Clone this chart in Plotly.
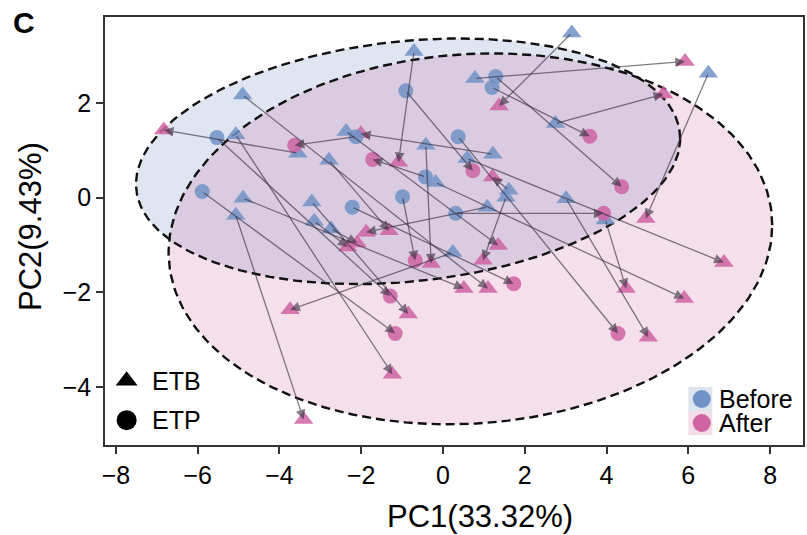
import numpy as np
import plotly.graph_objects as go

# ---------------- data ----------------
sample_group = ["ETB", "ETB", "ETP", "ETP", "ETB", "ETP", "ETB", "ETB", "ETB", "ETB",
                "ETP", "ETP", "ETP", "ETB", "ETB", "ETB", "ETB", "ETB", "ETP", "ETB",
                "ETB", "ETB", "ETB", "ETB", "ETP", "ETP", "ETB", "ETP", "ETB", "ETB",
                "ETB", "ETB", "ETB", "ETB", "ETP", "ETB"]

before_pc1 = [-3.55, 1.22, -2.13, -0.43, -0.71, -0.91, 1.61, 3.15, 0.78, 2.75,
              1.20, 1.29, 0.31, 6.49, 1.08, -2.79, -3.15, -2.74, -0.99, -0.42,
              -2.37, 1.54, -4.89, -4.90, -2.22, -5.53, -3.21, -5.89, -5.07, 0.24,
              -5.07, 0.59, 3.97, -0.18, 0.37, 3.01]
before_pc2 = [0.94, 0.92, 1.29, 0.44, 3.09, 2.26, 0.16, 3.48, 2.52, 1.57,
              2.33, 2.56, -0.33, 2.63, -0.20, 0.79, -0.50, -0.66, 0.02, 1.11,
              1.40, 0.01, -0.01, 2.17, -0.20, 1.27, -0.09, 0.13, 1.33, -1.16,
              -0.37, 0.83, -0.47, 0.32, 1.29, -0.02]
after_pc1 = [-6.83, -2.01, -3.63, -1.72, -1.09, 0.73, 1.21, 1.37, 5.92, 5.39,
             3.59, 4.37, 3.93, 4.96, -1.88, -1.32, -2.33, -2.10, -0.68, -0.29,
             1.35, 0.98, 0.51, 1.10, 1.73, -1.29, -0.85, -1.17, -1.24, -3.74,
             -3.41, 6.87, 4.48, 5.90, 4.28, 5.02]
after_pc2 = [1.43, 1.35, 1.11, 0.81, 0.75, 0.57, 0.44, 1.94, 2.88, 2.19,
             1.30, 0.23, -0.33, -0.44, -0.73, -0.70, -1.04, -0.96, -1.33, -1.39,
             -1.01, -1.32, -1.92, -1.92, -1.82, -2.08, -2.46, -2.87, -3.73, -2.37,
             -4.69, -1.37, -1.92, -2.13, -2.87, -2.95]

# confidence ellipses (centre and covariance-shape) for each time point
before_ellipse_center = [-0.855, 0.77]
before_ellipse_shape = [[44.3, 3.22], [3.22, 6.74]]
after_ellipse_center = [0.67, -0.87]
after_ellipse_shape = [[54.5, 2.13], [2.13, 15.37]]

x_ticks = [-8, -6, -4, -2, 0, 2, 4, 6, 8]
y_ticks = [-4, -2, 0, 2]
x_title = "PC1(33.32%)"
y_title = "PC2(9.43%)"
panel_label = "C"

# ---------------- styling ----------------
FONT = "Liberation Sans, Arial, sans-serif"
BLUE = "rgb(112,146,198)"
PINK = "rgb(206,100,162)"
BLUE_FILL = "rgba(116,146,196,0.23)"
PINK_FILL = "rgba(204,102,160,0.21)"
ARROW = "rgba(55,45,60,0.62)"
AXIS = "#333333"


def ellipse_points(center, shape, n=240):
    t = np.linspace(0, 2 * np.pi, n)
    L = np.linalg.cholesky(np.array(shape))
    pts = L @ np.vstack([np.cos(t), np.sin(t)])
    return pts[0] + center[0], pts[1] + center[1]


fig = go.Figure()

bx, by = ellipse_points(before_ellipse_center, before_ellipse_shape)
ax_, ay_ = ellipse_points(after_ellipse_center, after_ellipse_shape)

# fills
fig.add_trace(go.Scatter(x=bx, y=by, mode="lines", fill="toself", fillcolor=BLUE_FILL,
                         line=dict(width=0), hoverinfo="skip", showlegend=False))
fig.add_trace(go.Scatter(x=ax_, y=ay_, mode="lines", fill="toself", fillcolor=PINK_FILL,
                         line=dict(width=0), hoverinfo="skip", showlegend=False))
# dashed outlines
for ex, ey in [(bx, by), (ax_, ay_)]:
    fig.add_trace(go.Scatter(x=ex, y=ey, mode="lines",
                             line=dict(color="#111111", width=2.4, dash="9px,5px"),
                             hoverinfo="skip", showlegend=False))

symbol_of = {"ETB": "triangle-up", "ETP": "circle"}
size_of = {"ETB": 17, "ETP": 15}

for grp in ["ETB", "ETP"]:
    idx = [i for i, g in enumerate(sample_group) if g == grp]
    fig.add_trace(go.Scatter(
        x=[before_pc1[i] for i in idx], y=[before_pc2[i] for i in idx], mode="markers",
        marker=dict(symbol=symbol_of[grp], size=size_of[grp], color=BLUE, opacity=0.85,
                    line=dict(width=0)),
        showlegend=False))
    fig.add_trace(go.Scatter(
        x=[after_pc1[i] for i in idx], y=[after_pc2[i] for i in idx], mode="markers",
        marker=dict(symbol=symbol_of[grp], size=size_of[grp], color=PINK, opacity=0.85,
                    line=dict(width=0)),
        showlegend=False))

annotations = []
for i in range(len(sample_group)):
    annotations.append(dict(
        x=after_pc1[i], y=after_pc2[i], ax=before_pc1[i], ay=before_pc2[i],
        xref="x", yref="y", axref="x", ayref="y", text="", showarrow=True,
        arrowhead=2, arrowsize=1.5, arrowwidth=1.3, arrowcolor=ARROW, standoff=0,
        startstandoff=0))

# ---------------- custom legends on an overlay axis (0..1) ----------------
leg_x = [0.031, 0.031]
leg_y = [0.150, 0.058]
fig.add_trace(go.Scatter(x=[leg_x[0]], y=[leg_y[0]], xaxis="x2", yaxis="y2", mode="markers",
                         marker=dict(symbol="triangle-up", size=19, color="black"),
                         showlegend=False, hoverinfo="skip"))
fig.add_trace(go.Scatter(x=[leg_x[1]], y=[leg_y[1]], xaxis="x2", yaxis="y2", mode="markers",
                         marker=dict(symbol="circle", size=20, color="black"),
                         showlegend=False, hoverinfo="skip"))
for lx, ly, txt in zip(leg_x, leg_y, ["ETB", "ETP"]):
    annotations.append(dict(x=lx + 0.034, y=ly, xref="x2", yref="y2", text=txt,
                            showarrow=False, xanchor="left", yanchor="middle",
                            font=dict(family=FONT, size=25, color="black")))

tl_x = 0.853
tl_y = [0.1075, 0.0514]
fig.add_trace(go.Scatter(x=[tl_x, tl_x], y=tl_y, xaxis="x2", yaxis="y2", mode="markers",
                         marker=dict(symbol="square", size=24,
                                     color=["rgb(223,229,239)", "rgb(242,221,233)"]),
                         showlegend=False, hoverinfo="skip"))
fig.add_trace(go.Scatter(x=[tl_x + 0.002, tl_x + 0.002], y=tl_y, xaxis="x2", yaxis="y2",
                         mode="markers",
                         marker=dict(symbol="circle", size=18, color=[BLUE, PINK]),
                         showlegend=False, hoverinfo="skip"))
for ly, txt in zip(tl_y, ["Before", "After"]):
    annotations.append(dict(x=tl_x + 0.024, y=ly, xref="x2", yref="y2", text=txt,
                            showarrow=False, xanchor="left", yanchor="middle",
                            font=dict(family=FONT, size=25, color="black")))

# titles
annotations.append(dict(x=0.537, y=-0.168, xref="paper", yref="paper", text=x_title,
                        showarrow=False, xanchor="center", yanchor="middle",
                        font=dict(family=FONT, size=31, color="black")))
annotations.append(dict(x=-0.107, y=0.51, xref="paper", yref="paper", text=y_title,
                        showarrow=False, xanchor="center", yanchor="middle", textangle=-90,
                        font=dict(family=FONT, size=31, color="black")))
annotations.append(dict(x=-0.135, y=1.03, xref="paper", yref="paper",
                        text="<b>" + panel_label + "</b>",
                        showarrow=False, xanchor="left", yanchor="top",
                        font=dict(family=FONT, size=30, color="black")))

fig.update_layout(
    width=807, height=535,
    margin=dict(l=105, r=2, t=17, b=90),
    paper_bgcolor="white", plot_bgcolor="white",
    font=dict(family=FONT, color="black"),
    showlegend=False,
    annotations=annotations,
    xaxis=dict(range=[-8.268, 8.805], tickvals=x_ticks, ticks="outside", ticklen=7,
               tickwidth=1.6, tickcolor=AXIS, showline=True, linecolor=AXIS, linewidth=1.6,
               mirror=True, showgrid=False, zeroline=False,
               tickfont=dict(family=FONT, size=25, color="black")),
    yaxis=dict(range=[-5.228, 3.82], tickvals=y_ticks, ticks="outside", ticklen=7,
               tickwidth=1.6, tickcolor=AXIS, showline=True, linecolor=AXIS, linewidth=1.6,
               mirror=True, showgrid=False, zeroline=False,
               tickfont=dict(family=FONT, size=25, color="black")),
    xaxis2=dict(range=[0, 1], overlaying="x", visible=False, fixedrange=True),
    yaxis2=dict(range=[0, 1], overlaying="y", visible=False, fixedrange=True),
)

fig.write_html("out.html", config={"displayModeBar": False},
               post_script="document.body.style.margin='0';document.body.style.overflow='hidden';")
